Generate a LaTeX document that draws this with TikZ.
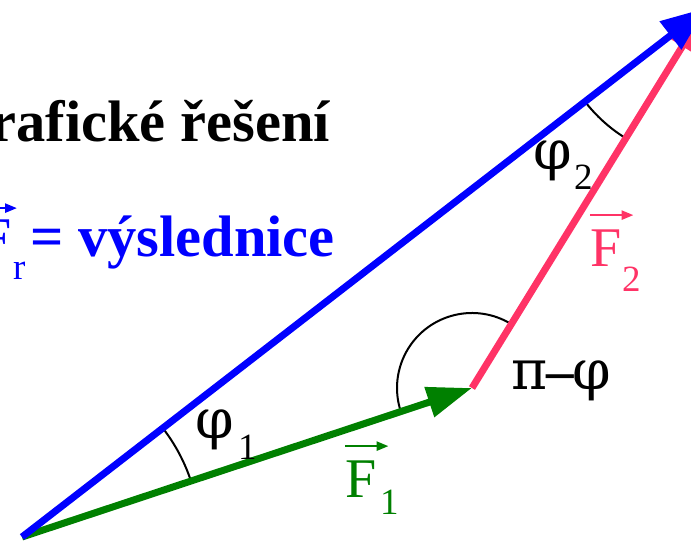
\documentclass[tikz,border=0pt]{standalone}
\usepackage{fontspec}
\setmainfont{Liberation Serif}
\newfontfamily\greekfont{DejaVu Serif}
\usetikzlibrary{arrows.meta}
\definecolor{fgreen}{HTML}{008000}
\definecolor{fpink}{HTML}{FF3366}
\definecolor{fblue}{HTML}{0000FF}

\begin{document}
\begin{tikzpicture}[x=1pt,y=1pt,
  force/.style={line width=7pt,-{Triangle[length=45pt,width=34pt]}},
  angarc/.style={line width=2pt},
  lab/.style={font=\fontsize{56}{60}\selectfont,inner sep=0pt},
  head/.style={font=\fontsize{58.5}{62}\selectfont\bfseries,inner sep=0pt},
  greek/.style={font=\fontsize{55}{58}\selectfont\greekfont,inner sep=0pt},
  sublab/.style={font=\fontsize{37}{40}\selectfont,inner sep=0pt},
  vecmark/.style={line width=2.5pt,-{Triangle[length=12pt,width=9pt]}}]
  \useasboundingbox (0,0) rectangle (691,543);
  \clip (0,0) rectangle (691,543);
  \coordinate (O) at (22,6); \coordinate (A) at (472,155); \coordinate (T) at (706,535);
  % angle arcs
  \draw[angarc] (O) ++(18.3:178pt) arc[start angle=18.3,end angle=37.7,radius=178pt];
  \draw[angarc] (A) ++(58.4:75pt) arc[start angle=58.4,end angle=198.3,radius=75pt];
  \draw[angarc] (T) ++(217.7:153pt) arc[start angle=217.7,end angle=238.4,radius=153pt];
  % forces
  \draw[force,fgreen,-{Triangle[length=45pt,width=30pt]}] (O) -- (A);
  \draw[force,fpink] (A) -- (T);
  \draw[force,fblue] (O) -- (T);
  % headings
  \node[head,anchor=base east] (title) at (330,401) {Grafické řešení};
  \node[head,anchor=base east,fblue] (res) at (335,286) {= výslednice};
  \node[lab,anchor=base east,fblue] (Fr) at (12,286) {F};
  \node[sublab,anchor=base west,fblue] (Frs) at (13,263) {r};
  \draw[vecmark,fblue] ([yshift=12pt]Fr.north west) -- ([yshift=12pt,xshift=5pt]Fr.north east);
  % force labels
  \node[lab,anchor=base west,fgreen] (F1) at (345,45) {F};
  \node[sublab,anchor=base west,fgreen] (F1s) at (380,28) {1};
  \draw[vecmark,fgreen] ([yshift=15pt]F1.north west) -- ([yshift=15pt,xshift=12pt]F1.north east);
  \node[lab,anchor=base west,fpink] (F2) at (590,276) {F};
  \node[sublab,anchor=base west,fpink] (F2s) at (622,251) {2};
  \draw[vecmark,fpink] ([yshift=15pt]F2.north west) -- ([yshift=15pt,xshift=12pt]F2.north east);
  % angle labels
  \node[greek] (phi1) at (215,113) {φ};
  \node[sublab,anchor=base west] (phi1s) at (238,83) {1};
  \node[greek] (phi2) at (553,382) {φ};
  \node[sublab,anchor=base west] (phi2s) at (574,353) {2};
  \node[greek,anchor=base west] (pmp) at (511,153) {π\hspace{-1pt}{\rmfamily\bfseries –}\hspace{-1pt}φ};
\end{tikzpicture}
\end{document}
